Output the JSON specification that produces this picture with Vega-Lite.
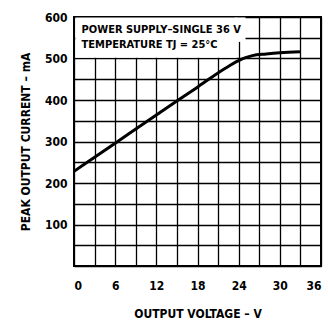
{
  "$schema": "https://vega.github.io/schema/vega-lite/v6.json",
  "autosize": "none",
  "width": 247,
  "height": 249,
  "padding": {"left": 74, "top": 17, "right": 7, "bottom": 56},
  "background": "white",
  "title": {
    "text": "vs Output Voltage",
    "anchor": "middle",
    "fontSize": 18,
    "fontWeight": "bold",
    "font": "Liberation Sans",
    "baseline": "alphabetic",
    "offset": 12,
    "dx": -30,
    "color": "black"
  },
  "config": {
    "view": {"stroke": "black", "strokeWidth": 2},
    "axis": {
      "domain": false,
      "ticks": false,
      "labelOverlap": false,
      "labelFont": "Liberation Sans Narrow, DejaVu Sans Condensed, sans-serif",
      "labelFontSize": 12,
      "labelFontWeight": "bold",
      "labelColor": "black",
      "titleFont": "Liberation Sans Narrow, DejaVu Sans Condensed, sans-serif",
      "titleFontSize": 12,
      "titleFontWeight": "bold",
      "titleColor": "black"
    }
  },
  "datasets": {
    "curve": [
      {"v": 0, "i": 228},
      {"v": 3, "i": 262},
      {"v": 6, "i": 296},
      {"v": 12, "i": 364},
      {"v": 18, "i": 431},
      {"v": 22, "i": 476},
      {"v": 24, "i": 495},
      {"v": 25, "i": 502},
      {"v": 26, "i": 507},
      {"v": 28, "i": 511},
      {"v": 30, "i": 514},
      {"v": 33, "i": 516}
    ],
    "mask": [
      {"v1": 0.2, "v2": 23.7, "i1": 502, "i2": 599},
      {"v1": 23.5, "v2": 25, "i1": 540, "i2": 599}
    ],
    "notes": [
      {"v": 1.1, "i": 569, "t": "POWER SUPPLY–SINGLE 36 V"},
      {"v": 1.1, "i": 533, "t": "TEMPERATURE TJ = 25°C"}
    ]
  },
  "layer": [
    {
      "data": {"name": "mask"},
      "mark": {"type": "rect", "fill": "white", "stroke": null},
      "encoding": {
        "x": {
          "field": "v1", "type": "quantitative",
          "scale": {"domain": [0, 36], "nice": false},
          "axis": {
            "orient": "bottom",
            "values": [0,3,6,9,12,15,18,21,24,27,30,33,36],
            "grid": true, "gridColor": "black", "gridOpacity": 1, "gridWidth": 1.3,
            "labels": false,
            "title": null
          }
        },
        "x2": {"field": "v2"},
        "y": {
          "field": "i1", "type": "quantitative",
          "scale": {"domain": [0, 600], "nice": false},
          "axis": {
            "orient": "left",
            "values": [0,50,100,150,200,250,300,350,400,450,500,550,600],
            "grid": true, "gridColor": "black", "gridOpacity": 1, "gridWidth": 1.3,
            "labels": false,
            "title": null
          }
        },
        "y2": {"field": "i2"}
      }
    },
    {
      "data": {"name": "curve"},
      "mark": {"type": "line", "color": "black", "strokeWidth": 3, "interpolate": "monotone"},
      "encoding": {
        "x": {"field": "v", "type": "quantitative",
          "axis": {
            "orient": "bottom",
            "values": [0,6,12,18,24,30,36],
            "grid": false,
            "labelPadding": 14,
            "title": "OUTPUT VOLTAGE – V",
            "titlePadding": 17
          }},
        "y": {"field": "i", "type": "quantitative",
          "axis": {
            "orient": "left",
            "values": [100,200,300,400,500,600],
            "grid": false,
            "labelPadding": 7,
            "title": "PEAK OUTPUT CURRENT – mA",
            "titlePadding": 12
          }}
      }
    },
    {
      "data": {"name": "notes"},
      "mark": {"type": "text", "align": "left", "baseline": "middle", "font": "Liberation Sans Narrow, DejaVu Sans Condensed, sans-serif", "fontSize": 11, "fontWeight": "bold", "color": "black"},
      "encoding": {
        "x": {"field": "v", "type": "quantitative", "axis": null},
        "y": {"field": "i", "type": "quantitative", "axis": null},
        "text": {"field": "t"}
      }
    }
  ],
  "resolve": {"axis": {"x": "independent", "y": "independent"}}
}
